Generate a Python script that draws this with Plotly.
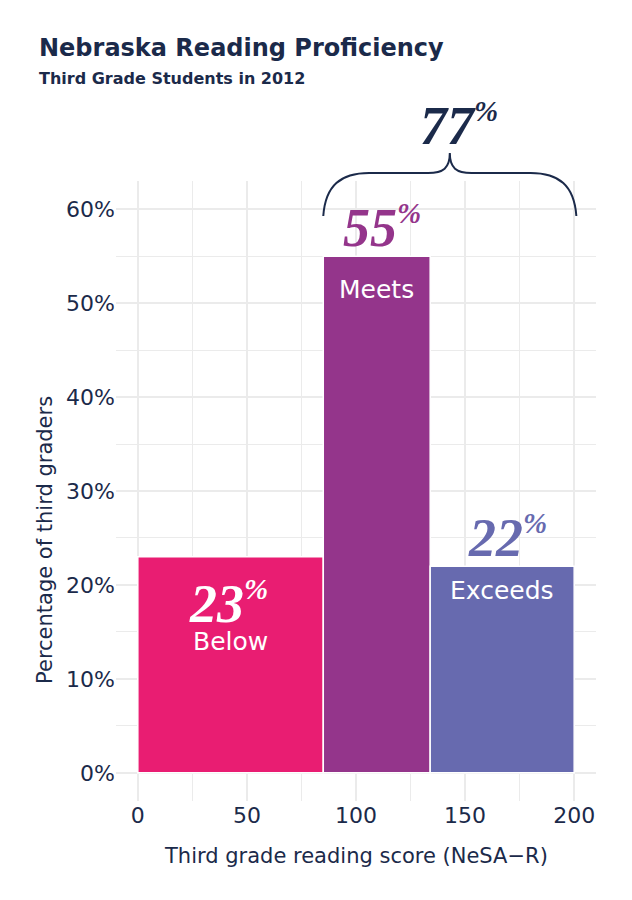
"""Nebraska third grade reading proficiency, 2012: variable-width bars."""

import plotly.graph_objs as go

# score bins (NeSA-R) and share of students in each
bin_edges = [0, 85, 134, 200]
pct_students = [23, 55, 22]
levels = ["Below", "Meets", "Exceeds"]
level_colors = ["#E91D72", "#94358B", "#676AAF"]
combined_pct = 77  # meets + exceeds

x_ticks = [0, 50, 100, 150, 200]

NAVY = "#1B2A4A"
GRID = "#EBEBEB"
SANS = "DejaVu Sans"
SERIF = "Liberation Serif"

centers = [(a + b) / 2 for a, b in zip(bin_edges[:-1], bin_edges[1:])]
widths = [b - a for a, b in zip(bin_edges[:-1], bin_edges[1:])]


def pct_label(value):
    return (
        f"<b><i>{value}</i></b>"
        f"<sup><b><i><span style='font-size:29px'>%</span></i></b></sup>"
    )


fig = go.Figure(
    go.Bar(
        x=centers,
        y=pct_students,
        width=widths,
        marker=dict(color=level_colors, line=dict(color="white", width=1.5)),
        hoverinfo="skip",
    )
)

annotations = []
# number + level name for each bar
num_dx = [-1, 2.5, 2.5]
num_dy = [-5, 3, 3]   # where the big number sits relative to bar top
name_dy = [-9, -3.5, -2.6]
num_colors = ["white", level_colors[1], level_colors[2]]
for c, p, lvl, dx, dy, ny, nc in zip(centers, pct_students, levels, num_dx, num_dy, name_dy, num_colors):
    annotations.append(dict(
        x=c + dx, y=p + dy, xref="x", yref="y", showarrow=False,
        text=pct_label(p), font=dict(family=SERIF, size=54, color=nc),
    ))
    annotations.append(dict(
        x=c, y=p + ny, xref="x", yref="y", showarrow=False,
        text=lvl, font=dict(family=SANS, size=25, color="white"),
    ))

# big combined number above the brace
annotations.append(dict(
    x=147, y=1.09, xref="x", yref="paper", yanchor="middle", showarrow=False,
    text=pct_label(combined_pct), font=dict(family=SERIF, size=54, color=NAVY),
))

# titles
annotations += [
    dict(x=-0.1646, y=1.214, xref="paper", yref="paper", xanchor="left", yanchor="middle",
         showarrow=False, text="<b>Nebraska Reading Proficiency</b>",
         font=dict(family=SANS, size=24, color=NAVY)),
    dict(x=-0.1646, y=1.166, xref="paper", yref="paper", xanchor="left", yanchor="middle",
         showarrow=False, text="<b>Third Grade Students in 2012</b>",
         font=dict(family=SANS, size=16, color=NAVY)),
    dict(x=0.5, y=-0.0887, xref="paper", yref="paper", xanchor="center", yanchor="middle",
         showarrow=False, text="Third grade reading score (NeSA\u2212R)",
         font=dict(family=SANS, size=21, color=NAVY)),
    dict(x=-0.148, y=0.421, xref="paper", yref="paper", xanchor="center", yanchor="middle",
         showarrow=False, textangle=-90, text="Percentage of third graders",
         font=dict(family=SANS, size=21, color=NAVY)),
]

# curly brace spanning Meets + Exceeds
lo, hi = bin_edges[1], bin_edges[3] + 1
mid = (lo + hi) / 2
y0, y1, y2 = 0.9435, 1.0129, 1.045
brace = (
    f"M {lo},{y0} C {lo+1},{y1-0.02} {lo+8},{y1} {lo+21},{y1} "
    f"L {mid-10},{y1} C {mid-3},{y1} {mid},{y1+0.008} {mid},{y2} "
    f"C {mid},{y1+0.008} {mid+3},{y1} {mid+10},{y1} "
    f"L {hi-21},{y1} C {hi-8},{y1} {hi-1},{y1-0.02} {hi},{y0}"
)

# the page body adds an 8px offset, so margins are shifted up/left by 8
fig.update_layout(
    width=632, height=900,
    margin=dict(l=108, r=44, t=173, b=107),
    plot_bgcolor="white", paper_bgcolor="white",
    showlegend=False,
    annotations=annotations,
    shapes=[dict(type="path", path=brace, xref="x", yref="paper",
                 line=dict(color=NAVY, width=2))],
    font=dict(family=SANS, color=NAVY),
)
fig.update_xaxes(
    range=[-10, 210], tickvals=x_ticks, showgrid=True, gridcolor=GRID, gridwidth=1.5,
    minor=dict(dtick=25, tick0=0, showgrid=True, gridcolor=GRID, gridwidth=1.2),
    zeroline=False, showline=False, ticks="", ticklabelstandoff=-1,
    tickfont=dict(family=SANS, size=22, color=NAVY),
)
fig.update_yaxes(
    range=[-3, 63], dtick=10, tick0=0, ticksuffix="%", showgrid=True, gridcolor=GRID, gridwidth=1.5,
    minor=dict(dtick=5, tick0=0, showgrid=True, gridcolor=GRID, gridwidth=1.2),
    zeroline=False, showline=False, ticks="",
    tickfont=dict(family=SANS, size=22, color=NAVY),
)

fig.write_html("out.html")
